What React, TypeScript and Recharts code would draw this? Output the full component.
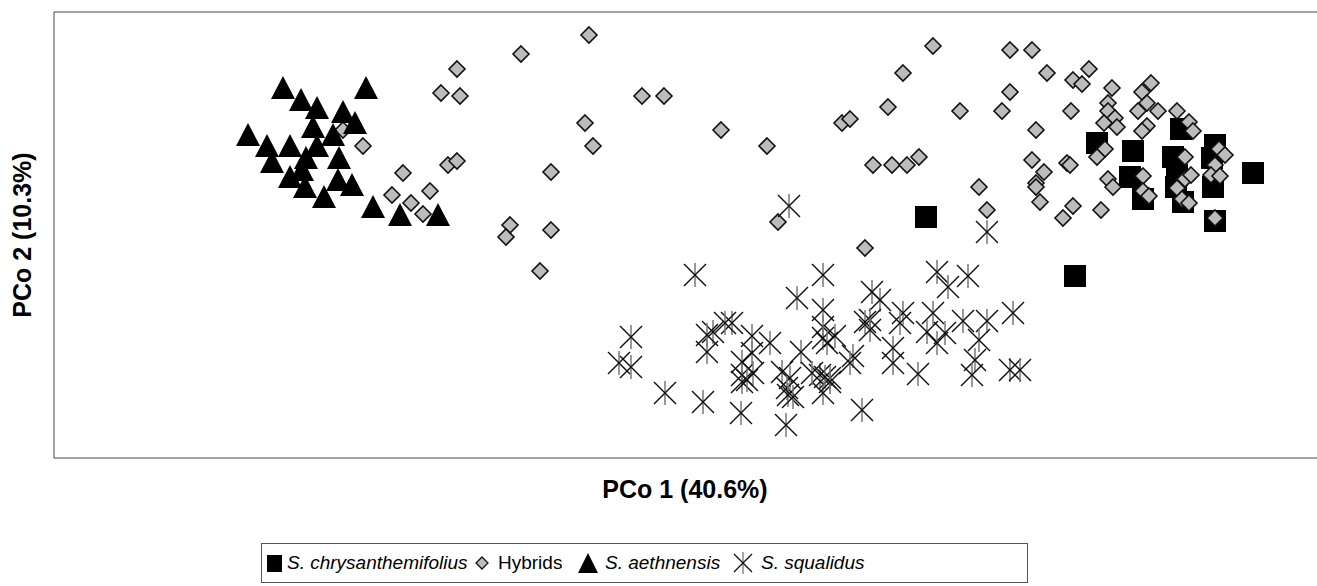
import React from 'react';
import { ScatterChart, Scatter, XAxis, YAxis, ReferenceArea, Legend } from 'recharts';

// PCo scores (arbitrary units, no tick labels on the original)
const chrysanthemifolius: [number, number][] = [
  [1043, 315], [1079, 307], [1127, 329], [1161, 313], [1119, 301], [1158, 300],
  [1076, 281], [1089, 259], [1123, 283], [1122, 271], [1129, 256], [1159, 271],
  [1161, 237], [1199, 285], [872, 241], [1021, 182],
];

const hybrids: [number, number][] = [
  [403, 389], [387, 365], [406, 362], [289, 328], [309, 312], [394, 293], [403, 297],
  [349, 285], [376, 267], [338, 263], [357, 255], [369, 244], [535, 423], [467, 404],
  [588, 362], [610, 362], [531, 335], [539, 312], [667, 328], [713, 312], [497, 286],
  [456, 233], [452, 221], [497, 228], [486, 187], [724, 236], [879, 412], [956, 408],
  [978, 408], [849, 385], [993, 385], [1019, 378], [956, 366], [834, 351], [906, 347],
  [948, 347], [1017, 347], [788, 335], [796, 339], [982, 328], [819, 293], [838, 293],
  [853, 293], [865, 301], [978, 298], [990, 286], [1013, 295], [1016, 293], [982, 275],
  [982, 271], [986, 256], [1019, 252], [1009, 240], [925, 271], [933, 248], [811, 210],
  [1035, 389], [1028, 374], [1058, 370], [1088, 366], [1097, 375], [1054, 355],
  [1054, 347], [1061, 340], [1050, 335], [1063, 331], [1084, 347], [1093, 355],
  [1104, 347], [1123, 347], [1093, 332], [1088, 327], [1135, 336], [1139, 327],
  [1047, 248], [1051, 309], [1043, 301], [1054, 279], [1059, 271], [1089, 282],
  [1089, 267], [1095, 262], [1131, 301], [1131, 279], [1137, 283], [1123, 270],
  [1128, 259], [1135, 255], [1165, 309], [1171, 303], [1161, 293], [1157, 283],
  [1166, 282], [1161, 240],
];

const aethnensis: [number, number][] = [
  [229, 370], [312, 370], [247, 358], [263, 350], [289, 346], [301, 335], [259, 331],
  [194, 323], [279, 323], [213, 312], [236, 312], [263, 312], [218, 296], [252, 300],
  [285, 300], [248, 288], [236, 281], [284, 278], [298, 273], [251, 271], [270, 261],
  [319, 251], [346, 243], [384, 243],
];

const squalidus: [number, number][] = [
  [641, 183], [769, 183], [743, 160], [769, 148], [577, 121], [565, 95], [577, 91],
  [659, 126], [653, 123], [678, 135], [671, 135], [653, 106], [698, 122], [716, 115],
  [698, 105], [688, 96], [688, 83], [699, 85], [688, 76], [693, 78], [747, 106],
  [728, 86], [736, 80], [733, 70], [734, 63], [739, 61], [769, 131], [769, 120],
  [766, 83], [776, 80], [769, 65], [611, 65], [649, 56], [687, 45], [732, 33],
  [758, 85], [883, 186], [894, 171], [914, 182], [818, 166], [826, 158], [816, 138],
  [811, 136], [816, 128], [849, 145], [846, 135], [879, 145], [873, 126], [891, 125],
  [883, 115], [909, 137], [933, 137], [925, 118], [921, 98], [918, 83], [959, 145],
  [781, 122], [773, 115], [799, 102], [796, 95], [839, 110], [839, 95], [864, 84],
  [956, 88], [966, 88], [771, 81], [776, 76], [808, 48], [735, 252], [933, 226],
];

const toPoints = (arr: [number, number][]) => arr.map(([x, y]) => ({ x, y }));

const SquareMark = ({ cx, cy }: any) => <rect x={cx - 11} y={cy - 11} width={22} height={22} fill="#000" />;

const DiamondMark = ({ cx, cy }: any) => (
  <polygon
    points={`${cx},${cy - 8} ${cx + 8},${cy} ${cx},${cy + 8} ${cx - 8},${cy}`}
    fill="#bcbcbc"
    stroke="#111"
    strokeWidth={1.6}
  />
);

const TriangleMark = ({ cx, cy }: any) => (
  <polygon points={`${cx},${cy - 12} ${cx + 12},${cy + 11} ${cx - 12},${cy + 11}`} fill="#000" />
);

const StarMark = ({ cx, cy }: any) => (
  <g>
    <line x1={cx} y1={cy - 12} x2={cx} y2={cy + 12} stroke="#777" strokeWidth={1.5} />
    <line x1={cx - 11} y1={cy - 11} x2={cx + 11} y2={cy + 11} stroke="#111" strokeWidth={1.5} />
    <line x1={cx - 11} y1={cy + 11} x2={cx + 11} y2={cy - 11} stroke="#111" strokeWidth={1.5} />
  </g>
);

const legendFont: React.CSSProperties = {
  position: 'absolute',
  top: 8,
  fontFamily: '"Liberation Sans", Arial, sans-serif',
  fontSize: 19,
  lineHeight: '22px',
  color: '#000',
  whiteSpace: 'nowrap',
};

const LegendBox = () => (
  <div style={{ position: 'relative', width: 767, height: 40, border: '1px solid #555', boxSizing: 'border-box', background: '#fff' }}>
    <svg width={767} height={40} style={{ position: 'absolute', left: 0, top: 0 }}>
      <rect x={5} y={11} width={15} height={17} fill="#000" />
      <polygon points="220,13 226,19 220,25 214,19" fill="#bcbcbc" stroke="#111" strokeWidth={1.3} />
      <polygon points="326,9 336,29 316,29" fill="#000" />
      <line x1={481} y1={8} x2={481} y2={30} stroke="#777" strokeWidth={1.3} />
      <line x1={472} y1={10} x2={490} y2={28} stroke="#111" strokeWidth={1.3} />
      <line x1={472} y1={28} x2={490} y2={10} stroke="#111" strokeWidth={1.3} />
    </svg>
    <span style={{ ...legendFont, left: 25, fontStyle: 'italic' }}>S. chrysanthemifolius</span>
    <span style={{ ...legendFont, left: 236 }}>Hybrids</span>
    <span style={{ ...legendFont, left: 343, fontStyle: 'italic' }}>S. aethnensis</span>
    <span style={{ ...legendFont, left: 499, fontStyle: 'italic' }}>S. squalidus</span>
  </div>
);

const axisFont = { fontFamily: '"Liberation Sans", Arial, sans-serif', fontSize: 25, fontWeight: 700 };

export default function App() {
  return (
    <div style={{ position: 'absolute', left: 0, top: 0, width: 1317, height: 586, background: '#fff', overflow: 'hidden' }}>
      {/* legend box (40px) is counted into the bottom offset by recharts, so margin.bottom is 66 - 40 */}
      <ScatterChart width={1317} height={586} margin={{ top: 12, right: -2, bottom: 26, left: 0 }}>
        <XAxis
          type="number"
          dataKey="x"
          domain={[0, 1265]}
          allowDataOverflow
          tick={false}
          tickLine={false}
          axisLine={false}
          height={62}
          label={{
            content: ({ viewBox }: any) => (
              <text
                x={685}
                y={viewBox.y + 31}
                textAnchor="middle"
                dominantBaseline="central"
                style={axisFont}
              >
                PCo 1 (40.6%)
              </text>
            ),
          }}
        />
        <YAxis
          type="number"
          dataKey="y"
          domain={[0, 446]}
          allowDataOverflow
          tick={false}
          tickLine={false}
          axisLine={false}
          width={54}
          label={{
            content: ({ viewBox }: any) => {
              const cx = viewBox.x + 22;
              const cy = viewBox.y + viewBox.height / 2;
              return (
                <text
                  x={cx}
                  y={cy}
                  textAnchor="middle"
                  dominantBaseline="central"
                  transform={`rotate(-90 ${cx} ${cy})`}
                  style={axisFont}
                >
                  PCo 2 (10.3%)
                </text>
              );
            },
          }}
        />
        <ReferenceArea x1={0} x2={1265} y1={0} y2={446} fill="none" stroke="#444" strokeWidth={1} ifOverflow="visible" />
        <Scatter name="S. chrysanthemifolius" data={toPoints(chrysanthemifolius)} shape={SquareMark} isAnimationActive={false} />
        <Scatter name="Hybrids" data={toPoints(hybrids)} shape={DiamondMark} isAnimationActive={false} />
        <Scatter name="S. aethnensis" data={toPoints(aethnensis)} shape={TriangleMark} isAnimationActive={false} />
        <Scatter name="S. squalidus" data={toPoints(squalidus)} shape={StarMark} isAnimationActive={false} />
        <Legend
          content={() => <LegendBox />}
          wrapperStyle={{ position: 'absolute', left: 261, top: 543, width: 767, height: 40 }}
        />
      </ScatterChart>
    </div>
  );
}
